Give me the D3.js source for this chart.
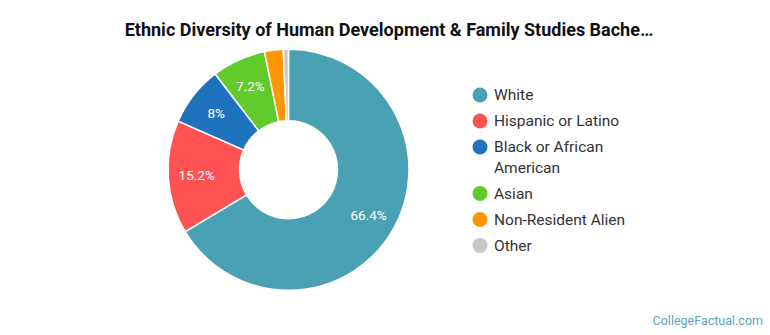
<!DOCTYPE html>
<html><head><meta charset="utf-8">
<script src="https://cdn.jsdelivr.net/npm/d3@7"></script>
<style>body{margin:0;background:#fff}svg{display:block;font-family:Roboto,"Noto Sans",sans-serif}</style>
</head><body>
<svg id="chart" width="770" height="335"></svg>
<script>
const titleText = "Ethnic Diversity of Human Development & Family Studies Bache\u2026";
const categories = ["White", "Hispanic or Latino", "Black or African American", "Asian", "Non-Resident Alien", "Other"];
const legendLines = [["White"], ["Hispanic or Latino"], ["Black or African", "American"], ["Asian"], ["Non-Resident Alien"], ["Other"]];
const values = [66.4, 15.2, 8, 7.2, 2.5, 0.7];
const labels = ["66.4%", "15.2%", "8%", "7.2%", "", ""];
const colors = ["#4aa1b3", "#ff5252", "#1f72bc", "#60cb2b", "#ff9500", "#c8c8c8"];

const svg = d3.select("#chart");
svg.append("text").attr("x", 389).attr("y", 36).attr("text-anchor", "middle")
  .attr("font-size", 18).attr("font-weight", 700).attr("fill", "#111").text(titleText);

const cx = 288.5, cy = 169.7, R = 120.5, r0 = 49;
const pie = d3.pie().sort(null).value(d => d)(values);
const arc = d3.arc().innerRadius(r0).outerRadius(R);
const g = svg.append("g").attr("transform", `translate(${cx},${cy})`);
g.selectAll("path").data(pie).join("path")
  .attr("d", arc).attr("fill", (d, i) => colors[i])
  .attr("stroke", "#fff").attr("stroke-width", 1.5);
const labelR = 92;
g.selectAll("text.lbl").data(pie).join("text").attr("class", "lbl")
  .attr("transform", d => {
    const a = (d.startAngle + d.endAngle) / 2;
    return `translate(${Math.sin(a) * labelR},${-Math.cos(a) * labelR})`;
  })
  .attr("text-anchor", "middle").attr("dy", "0.35em")
  .attr("font-size", 13.5).attr("fill", "#fff").text((d, i) => labels[i]);

const leg = svg.append("g");
let y = 95;
legendLines.forEach((lines, i) => {
  leg.append("circle").attr("cx", 480).attr("cy", y).attr("r", 7.5).attr("fill", colors[i]);
  lines.forEach((ln, j) => {
    leg.append("text").attr("x", 494).attr("y", y + j * 20.5).attr("dy", "0.35em")
      .attr("font-size", 15.5).attr("fill", "#333").text(ln);
  });
  y += 26 + (lines.length - 1) * 20.5;
});

svg.append("text").attr("x", 763).attr("y", 325).attr("text-anchor", "end")
  .attr("font-size", 12.5).attr("fill", "#5aa5c2").text("CollegeFactual.com");
</script>
</body></html>
